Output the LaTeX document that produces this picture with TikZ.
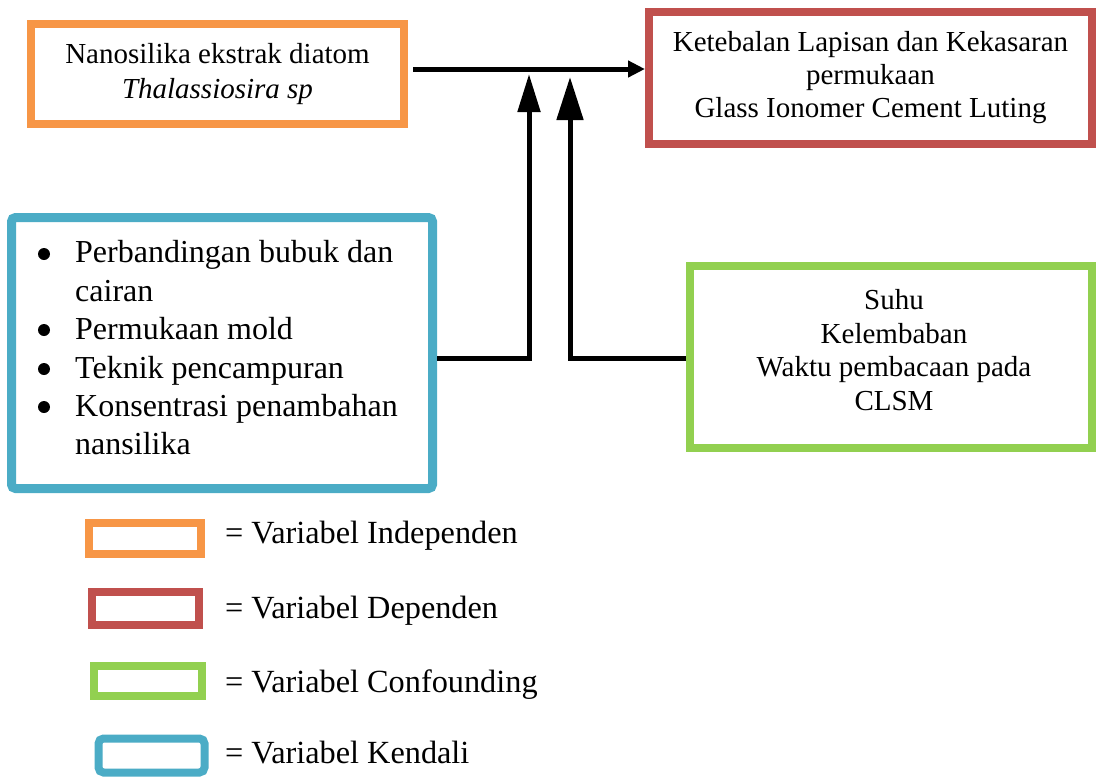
\documentclass[tikz,border=0pt]{standalone}
\usepackage{fontspec}
\setmainfont{Liberation Serif}
\usetikzlibrary{arrows.meta}
\definecolor{cOrange}{HTML}{F79646}
\definecolor{cRed}{HTML}{C0504D}
\definecolor{cGreen}{HTML}{92D050}
\definecolor{cBlue}{HTML}{4BACC6}
\begin{document}
\begin{tikzpicture}[x=1pt,y=-1pt,
  box/.style={draw, line width=8pt, inner sep=0pt, fill=white},
  txt/.style={inner sep=0pt, align=center},
  legtxt/.style={inner sep=0pt, anchor=base west, font=\fontsize{32.3}{36}\selectfont},
  arr/.style={line width=5pt, -{Triangle[length=17pt,width=16pt]}},
  bulletdot/.style={circle, fill=black, inner sep=0pt, minimum size=12pt},
]
\useasboundingbox (0,0) rectangle (1096,777);

% main boxes
\node[box, draw=cOrange, minimum width=373pt, minimum height=100pt, txt,
  font=\fontsize{29}{35}\selectfont] (indep) at (217.5,74)
  {Nanosilika ekstrak diatom\\\textit{Thalassiosira sp}};
\node[box, draw=cRed, minimum width=443pt, minimum height=132pt, txt,
  font=\fontsize{29}{33}\selectfont] (dep) at (870.5,78)
  {Ketebalan Lapisan dan Kekasaran\\permukaan\\Glass Ionomer Cement Luting};
\node[box, draw=cGreen, minimum width=402pt, minimum height=182pt] (conf) at (891,357) {};
\node[txt, font=\fontsize{29}{33.7}\selectfont] (confText) at (894,350)
  {Suhu\\Kelembaban\\Waktu pembacaan pada\\CLSM};
\node[box, draw=cBlue, line width=9pt, rounded corners=4pt, minimum width=421pt, minimum height=271pt] (ctrl) at (222,353) {};
\node[inner sep=0pt, anchor=west, align=left, font=\fontsize{32}{38.4}\selectfont] (ctrlText) at (75,348)
  {Perbandingan bubuk dan\\
   cairan\\
   Permukaan mold\\
   Teknik pencampuran\\
   Konsentrasi penambahan\\
   nansilika};
\node[bulletdot] (bul1) at (44,254) {};
\node[bulletdot] (bul2) at (44,330) {};
\node[bulletdot] (bul3) at (44,369) {};
\node[bulletdot] (bul4) at (44,407) {};

% connectors
\coordinate (hy) at (413,69);
\coordinate (jA) at (529,358);
\coordinate (tA) at (529,74);
\coordinate (jB) at (570,358);
\coordinate (tB) at (570,77);
\draw[arr, shorten <=5pt] (indep.east |- hy) -- (dep.west |- hy);
\draw[line width=5pt, -{Triangle[length=38pt,width=22pt]}] (ctrl.east |- jA) -- (jA) -- (tA);
\draw[line width=5pt, -{Triangle[length=43pt,width=26pt]}] (conf.west |- jB) -- (jB) -- (tB);

% legend
\node[box, draw=cOrange, minimum width=112pt, minimum height=31pt] (legO) at (145,538.5) {};
\node[box, draw=cRed, minimum width=107pt, minimum height=33pt] (legR) at (145.5,608.5) {};
\node[box, draw=cGreen, minimum width=108pt, minimum height=30pt] (legG) at (148,681) {};
\node[box, draw=cBlue, rounded corners=5pt, minimum width=106pt, minimum height=34pt] (legB) at (151.5,755.5) {};
\node[legtxt] (legOt) at (225,543) {= Variabel Independen};
\node[legtxt] (legRt) at (225,618) {= Variabel Dependen};
\node[legtxt] (legGt) at (225,692) {= Variabel Confounding};
\node[legtxt] (legBt) at (225,763) {= Variabel Kendali};
\end{tikzpicture}
\end{document}
